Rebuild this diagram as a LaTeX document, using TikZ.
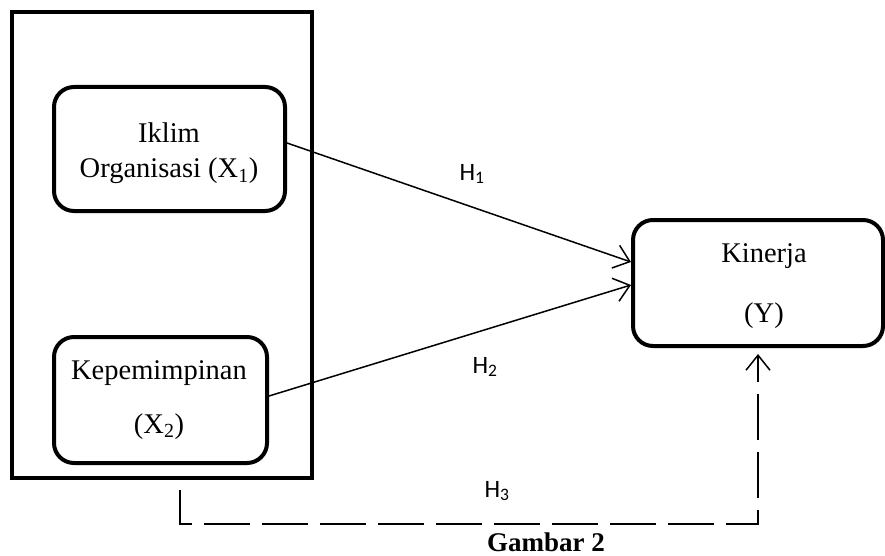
\documentclass[tikz,border=0pt]{standalone}
\usepackage{fontspec}
\setmainfont{Liberation Serif}
\newfontfamily\calibri{Carlito}
\usetikzlibrary{arrows.meta,calc}
\tikzset{
  varbox/.style={draw,line width=4pt,rounded corners=20pt,inner sep=0pt},
  boxtxt/.style={anchor=base,inner sep=0pt,font=\fontsize{28.5}{32}\selectfont},
  hlab/.style={anchor=base,inner sep=0pt,font=\calibri\fontsize{25}{28}\selectfont},
  conn/.style={line width=1.5pt,-{Straight Barb[length=15pt,width=24pt,line width=1.5pt]}},
  dconn/.style={conn,dash pattern=on 46pt off 12pt},
}
\begin{document}
\begin{tikzpicture}[x=1pt,y=-1pt]
\useasboundingbox (0,0) rectangle (885,556);
\fill[white] (0,0) rectangle (885,556);
% outer frame
\draw[line width=4.5pt] (12,12) rectangle (312,478);
% boxes
\node[varbox,minimum width=231pt,minimum height=124pt] (x1) at (169.5,149) {};
\node[varbox,minimum width=213pt,minimum height=126pt] (x2) at (160.5,400) {};
\node[varbox,minimum width=250pt,minimum height=126pt] (ky) at (758,283) {};
% box texts
\node[boxtxt] (t1a) at (169,143) {Iklim};
\node[boxtxt] (t1b) at (169,178) {Organisasi (X\textsubscript{1})};
\node[boxtxt] (t2a) at (159,379) {Kepemimpinan};
\node[boxtxt] (t2b) at (159,433) {(X\textsubscript{2})};
\node[boxtxt] (tya) at (764,262) {Kinerja};
\node[boxtxt] (tyb) at (764,322) {(Y)};
% connectors
\draw[conn] ([yshift=6pt]x1.east) -- ([yshift=21pt]ky.west);
\draw[conn] ([yshift=4pt]x2.east) -- ([yshift=-2pt]ky.west);
\coordinate (h3a) at (180,490);
\coordinate (h3c) at (180,524);
\coordinate (h3b) at (758,524);
\draw[dconn,shorten >=6pt] (h3a) -- (h3c) -- (h3b) -- (ky.south);
% labels
\node[hlab] (h1) at (472,180) {H\textsubscript{1}};
\node[hlab] (h2) at (485,373) {H\textsubscript{2}};
\node[hlab] (h3) at (497,497) {H\textsubscript{3}};
\node[anchor=base,inner sep=0pt,font=\bfseries\fontsize{27}{30}\selectfont] (cap) at (546,551) {Gambar 2};
\end{tikzpicture}
\end{document}
